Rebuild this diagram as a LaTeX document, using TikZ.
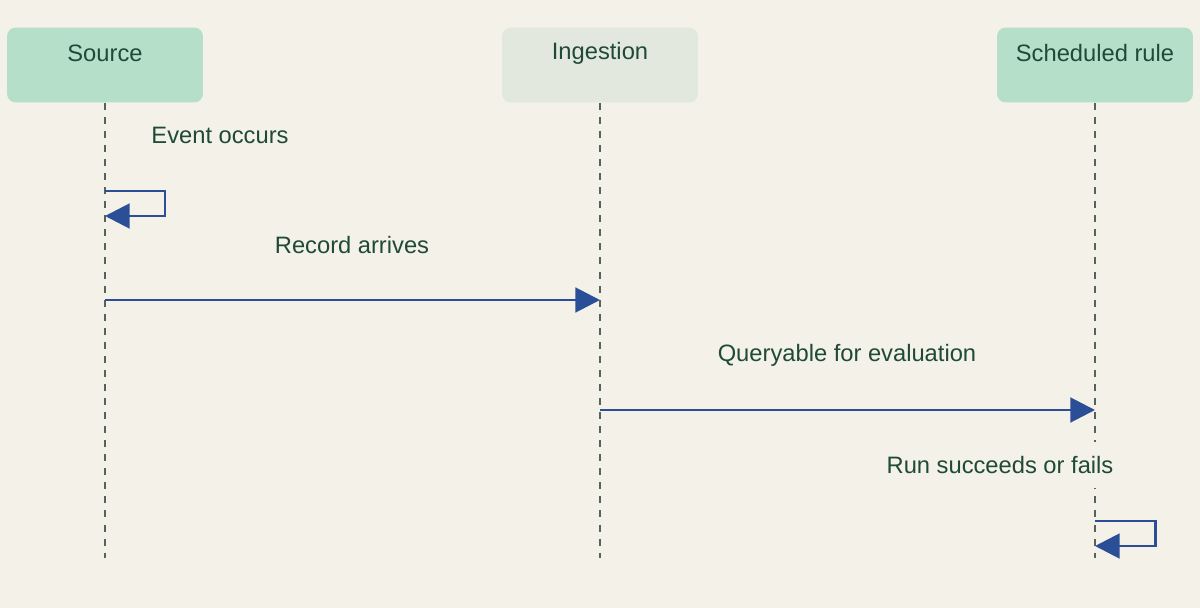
\documentclass[tikz,border=0pt]{standalone}
\usepackage{fontspec}
\setmainfont{Liberation Sans}
\usetikzlibrary{arrows.meta}
\definecolor{bg}{HTML}{F4F1E9}
\definecolor{act}{HTML}{B5DFC9}
\definecolor{actg}{HTML}{E3E8DF}
\definecolor{txt}{HTML}{1F4A35}
\definecolor{life}{HTML}{55645A}
\definecolor{msg}{HTML}{2A4F96}
\begin{document}
\begin{tikzpicture}[x=0.02cm,y=-0.02cm,
  actor/.style={rounded corners=5pt,minimum width=3.92cm,minimum height=1.5cm},
  tt/.style={text=txt,font=\fontsize{13.5}{16}\selectfont},
  lbl/.style={tt,fill=bg,inner sep=2pt},
  lifeline/.style={life,line width=1.6pt,dash pattern=on 4pt off 4pt},
  msgs/.style={msg,line width=1.7pt,-{Triangle[length=14pt,width=14pt]}}]
\fill[bg] (0,0) rectangle (1200,608);
\useasboundingbox (0,0) rectangle (1200,608);
\node[actor,fill=act] (s) at (105,65) {};
\node[tt] (st) at (105,53) {Source};
\node[actor,fill=actg] (i) at (600,65) {};
\node[tt] (it) at (600,53) {Ingestion};
\node[actor,fill=act] (r) at (1095,65) {};
\node[tt] (rt) at (1095,53) {Scheduled rule};
\coordinate (se) at (105,558);
\coordinate (ie) at (600,558);
\coordinate (re) at (1095,558);
\draw[lifeline] (s.south) -- (se);
\draw[lifeline] (i.south) -- (ie);
\draw[lifeline] (r.south) -- (re);
\node[lbl] (l1) at (220,135) {Event occurs};
\node[lbl] (l2) at (352,245) {Record arrives};
\node[lbl] (l3) at (847,355) {Queryable for evaluation};
\node[lbl,inner sep=8pt] (l4) at (1000,465) {Run succeeds or fails};
\coordinate (a1) at (105,191); \coordinate (a2) at (105,216);
\draw[msgs] (a1) -- (165,191) -- (165,216) -- (a2);
\coordinate (b1) at (105,300); \coordinate (b2) at (600,300);
\draw[msgs] (b1) -- (b2);
\coordinate (c1) at (600,410); \coordinate (c2) at (1095,410);
\draw[msgs] (c1) -- (c2);
\coordinate (d1) at (1095,521); \coordinate (d2) at (1095,546);
\draw[msgs] (d1) -- (1155,521) -- (1155,546) -- (d2);
\end{tikzpicture}
\end{document}
